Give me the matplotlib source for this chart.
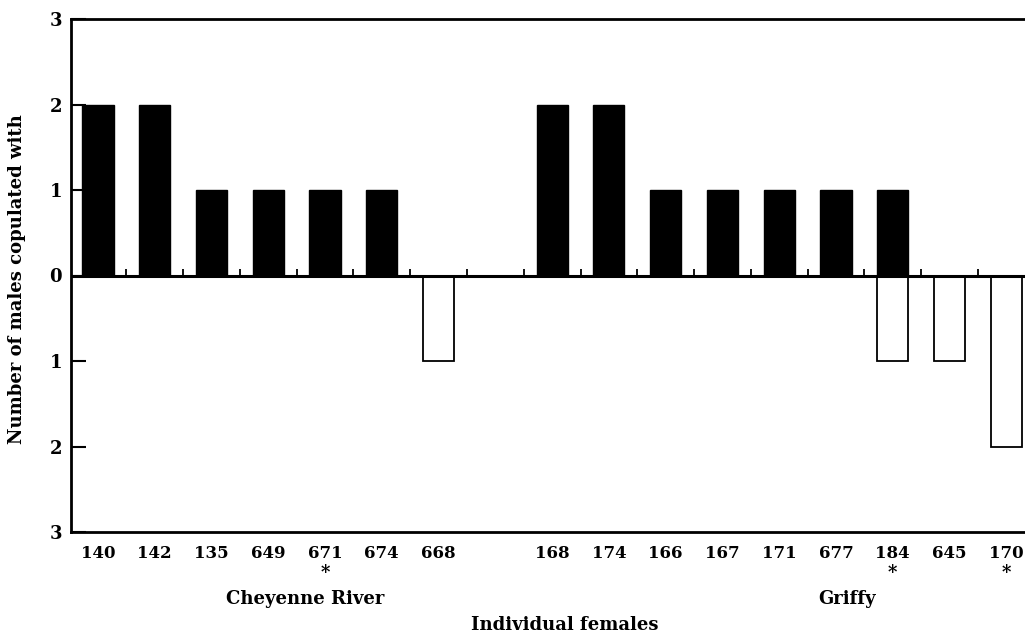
import numpy as np
import matplotlib
matplotlib.use("Agg")
import matplotlib.pyplot as plt

# females and counts of males they copulated with
cheyenne_ids = ['140', '142', '135', '649', '671', '674', '668']
cheyenne_above = [2, 2, 1, 1, 1, 1, 0]
cheyenne_below = [0, 0, 0, 0, 0, 0, 1]

griffy_ids = ['168', '174', '166', '167', '171', '677', '184', '645', '170']
griffy_above = [2, 2, 1, 1, 1, 1, 1, 0, 0]
griffy_below = [0, 0, 0, 0, 0, 0, 1, 1, 2]

starred = ['671', '184', '170']
y_ticks = [-3, -2, -1, 0, 1, 2, 3]
y_ticklabels = ['3', '2', '1', '0', '1', '2', '3']

plt.rcParams['font.family'] = 'DejaVu Serif'
plt.rcParams['font.weight'] = 'bold'

ids = cheyenne_ids + griffy_ids
above = np.array(cheyenne_above + griffy_above)
below = np.array(cheyenne_below + griffy_below)
xpos = np.concatenate([np.arange(len(cheyenne_ids)),
                       np.arange(len(griffy_ids)) + len(cheyenne_ids) + 1])

fig = plt.figure(figsize=(10.25, 6.37), dpi=100)
ax = fig.add_axes([71 / 1025, 105 / 637, 1 - 71 / 1025, 513 / 637])

w = 0.55
ax.bar(xpos, above, width=w, color='black', edgecolor='black', linewidth=1)
neg = below > 0
ax.bar(xpos[neg], -below[neg], width=w, color='white', edgecolor='black', linewidth=1.3)

# zero line with little upward ticks between the bars
ax.axhline(0, color='black', linewidth=2.2, zorder=3)
mids = np.arange(0.5, xpos.max(), 1.0)
ax.vlines(mids, 0, 0.08, color='black', linewidth=1.3, zorder=3)

ax.set_xlim(-0.475, xpos.max() + 0.33)
ax.set_ylim(-3, 3)

for side in ['left', 'top', 'bottom']:
    ax.spines[side].set_linewidth(2)
ax.spines['right'].set_visible(False)

ax.set_yticks(y_ticks)
ax.set_yticklabels(y_ticklabels)
ax.tick_params(axis='y', direction='in', length=11, width=1.5, pad=6.5, labelsize=13)
ax.set_xticks(xpos)
ax.set_xticklabels(ids)
ax.tick_params(axis='x', length=0, pad=9, labelsize=12)

tr = ax.get_xaxis_transform()
for x, lab in zip(xpos, ids):
    if lab in starred:
        ax.text(x, -0.08, '*', transform=tr, ha='center', va='center',
                fontsize=13, fontweight='bold')

ax.text(3.65, -0.13, 'Cheyenne River', transform=tr, ha='center', va='center',
        fontsize=13, fontweight='bold')
ax.text(13.19, -0.13, 'Griffy', transform=tr, ha='center', va='center',
        fontsize=13, fontweight='bold')

fig.text(565 / 1025, 1 - 625 / 637, 'Individual females', ha='center', va='center',
         fontsize=13, fontweight='bold')
fig.text(17 / 1025, 1 - 279 / 637, 'Number of males copulated with', rotation=90,
         ha='center', va='center', fontsize=13, fontweight='bold')

fig.savefig('out.png', dpi=100)
